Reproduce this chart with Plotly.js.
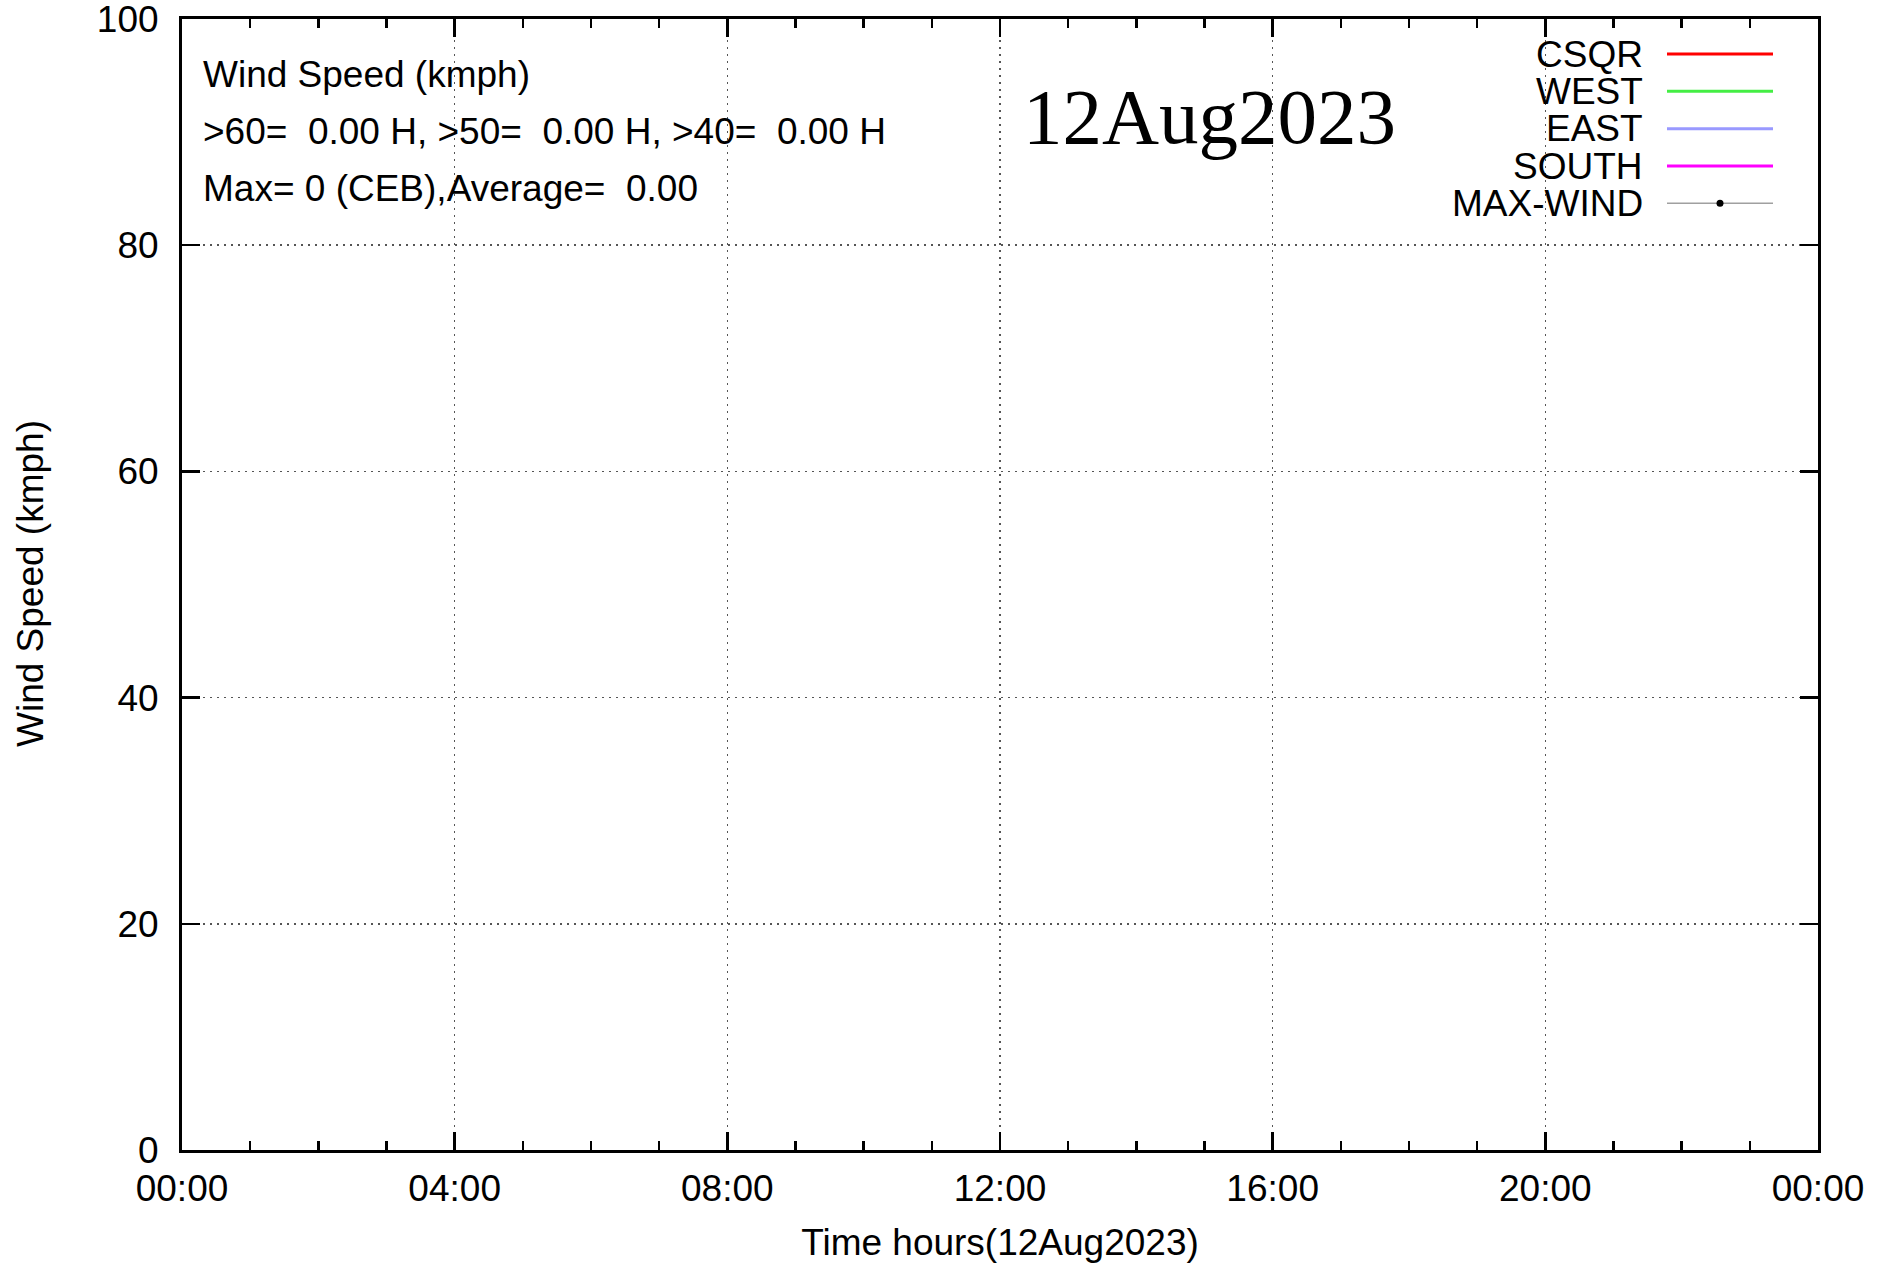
<!DOCTYPE html>
<html>
<head>
<meta charset="utf-8">
<script src="https://cdn.plot.ly/plotly-3.0.1.min.js"></script>
<style>
  html, body { margin: 0; padding: 0; background: #ffffff; }
  #chart { width: 1886px; height: 1266px; }
</style>
</head>
<body>
<div id="chart"></div>
<script>
// ---- Data (no readings were plotted on 12Aug2023) ----
const seriesNames = ['CSQR', 'WEST', 'EAST', 'SOUTH', 'MAX-WIND'];
const seriesColors = ['#ff0000', '#44ee44', '#9999ff', '#ff00ff', '#a0a0a0'];
const csqrTimes = [];  const csqrValues = [];
const westTimes = [];  const westValues = [];
const eastTimes = [];  const eastValues = [];
const southTimes = []; const southValues = [];
const maxTimes = [];   const maxValues = [];
const xStart = '2023-08-12 00:00';
const xEnd = '2023-08-13 00:00';
const yTicks = [0, 20, 40, 60, 80, 100];
const infoLines = [
  'Wind Speed (kmph)',
  '>60=  0.00 H, >50=  0.00 H, >40=  0.00 H',
  'Max= 0 (CEB),Average=  0.00'
];
const dateLabel = '12Aug2023';
const xTitle = 'Time hours(12Aug2023)';
const yTitle = 'Wind Speed (kmph)';

const SANS = 'Liberation Sans, Arial, Helvetica, sans-serif';
const SERIF = 'Liberation Serif, Times New Roman, serif';
const FS = 37;

const seriesData = [
  [csqrTimes, csqrValues], [westTimes, westValues], [eastTimes, eastValues],
  [southTimes, southValues], [maxTimes, maxValues]
];

const traces = seriesData.map((d, i) => ({
  type: 'scatter',
  mode: i === 4 ? 'lines+markers' : 'lines',
  x: d[0], y: d[1],
  name: seriesNames[i],
  line: { color: seriesColors[i], width: 2.5 },
  marker: { color: '#000', size: 7 },
  showlegend: false
}));

// plot area geometry in px (for placing info text / legend)
const W = 1886, H = 1266;
const mL = 182, mR = 68, mT = 19, mB = 116;
const pw = W - mL - mR, ph = H - mT - mB;
const px = x => (x - mL) / pw;
const py = y => (H - mB - y) / ph;

const annotations = [];
const shapes = [];
const infoY = [74.6, 131, 188];
infoLines.forEach((t, i) => annotations.push({
  xref: 'paper', yref: 'paper', x: px(200.5), y: py(infoY[i]),
  xanchor: 'left', yanchor: 'middle', showarrow: false, text: t,
  font: { family: SANS, size: FS, color: '#000' }
}));
annotations.push({
  xref: 'paper', yref: 'paper', x: px(1209), y: py(116),
  xanchor: 'center', yanchor: 'middle', showarrow: false, text: dateLabel,
  font: { family: SERIF, size: 79, color: '#000' }
});
// y-axis title
annotations.push({
  xref: 'paper', yref: 'paper', x: px(30), y: py(584),
  xanchor: 'center', yanchor: 'middle', showarrow: false, text: yTitle,
  textangle: -90,
  font: { family: SANS, size: FS, color: '#000' }
});
// legend (gnuplot style: text right-aligned, sample to the right)
const legY = [54, 91.3, 128.7, 166, 203.3];
seriesNames.forEach((n, i) => {
  annotations.push({
    xref: 'paper', yref: 'paper', x: px(1645), y: py(legY[i]),
    xanchor: 'right', yanchor: 'middle', showarrow: false, text: n,
    font: { family: SANS, size: FS, color: '#000' }
  });
  shapes.push({
    type: 'line', xref: 'paper', yref: 'paper',
    x0: px(1667), x1: px(1773), y0: py(legY[i]), y1: py(legY[i]),
    line: { color: seriesColors[i], width: i === 4 ? 1.5 : 3 }
  });
});
shapes.push({
  type: 'circle', xref: 'paper', yref: 'paper',
  x0: px(1716.5), x1: px(1723.5), y0: py(legY[4] - 3.5), y1: py(legY[4] + 3.5),
  fillcolor: '#000', line: { color: '#000', width: 0 }
});

const layout = {
  width: W, height: H,
  margin: { l: mL, r: mR, t: mT, b: mB, pad: 0 },
  paper_bgcolor: '#ffffff', plot_bgcolor: '#ffffff',
  showlegend: false,
  font: { family: SANS, size: FS, color: '#000' },
  xaxis: {
    type: 'date', range: [xStart, xEnd], autorange: false,
    tick0: xStart, dtick: 4 * 3600000, tickformat: '%H:%M',
    ticks: 'inside', ticklen: 18, tickwidth: 2.5, tickcolor: '#000',
    showline: true, linewidth: 3, linecolor: '#000', mirror: 'allticks',
    showgrid: true, gridcolor: '#555555', gridwidth: 1.5, griddash: '2px,5px',
    zeroline: false,
    minor: { dtick: 3600000, tick0: xStart, ticks: 'inside', ticklen: 9, tickwidth: 2.5, tickcolor: '#000', showgrid: false },
    tickfont: { family: SANS, size: FS, color: '#000' },
    ticklabelstandoff: 4, ticklabeloverflow: 'allow',
    title: { text: xTitle, font: { family: SANS, size: FS, color: '#000' }, standoff: 21 },
    automargin: false, fixedrange: true
  },
  yaxis: {
    range: [0, 100], autorange: false, tickvals: yTicks,
    ticks: 'inside', ticklen: 18, tickwidth: 2.5, tickcolor: '#000',
    showline: true, linewidth: 3, linecolor: '#000', mirror: 'allticks',
    showgrid: true, gridcolor: '#555555', gridwidth: 1.5, griddash: '2px,5px',
    zeroline: false,
    tickfont: { family: SANS, size: FS, color: '#000' },
    ticklabelstandoff: 13, ticklabeloverflow: 'allow',
    automargin: false, fixedrange: true
  },
  annotations: annotations,
  shapes: shapes
};

Plotly.newPlot('chart', traces, layout, { staticPlot: true, displayModeBar: false });
</script>
</body>
</html>
